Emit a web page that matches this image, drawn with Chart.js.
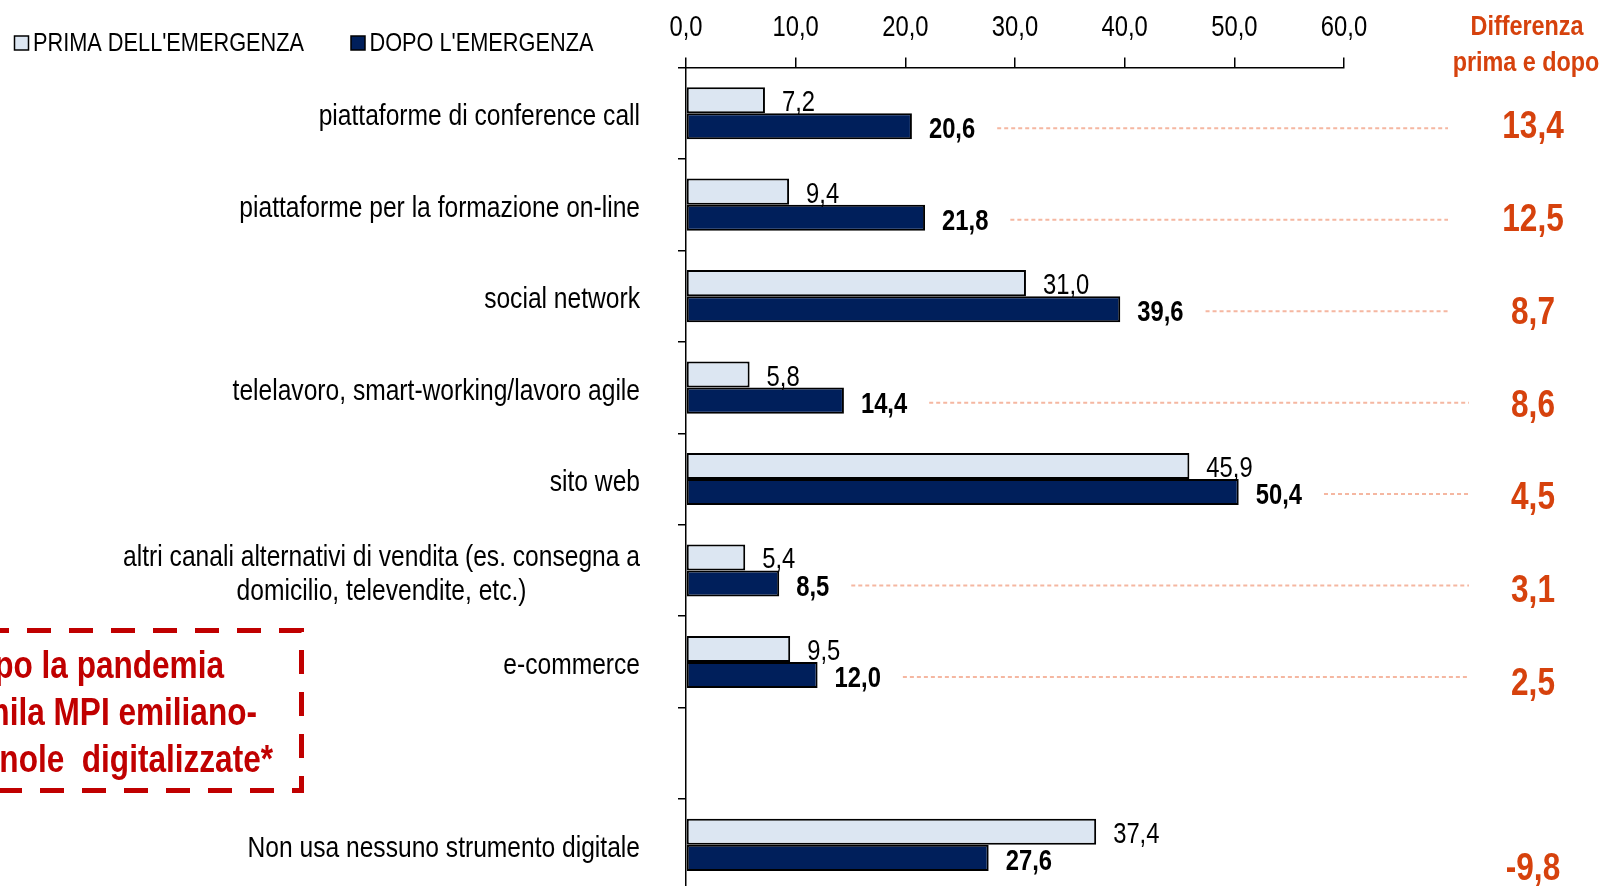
<!DOCTYPE html>
<html>
<head>
<meta charset="utf-8">
<script src="https://cdn.jsdelivr.net/npm/chart.js@4/dist/chart.umd.min.js"></script>
<style>
  html, body { margin: 0; padding: 0; background: #fff; overflow: hidden; }
  canvas { display: block; }
</style>
</head>
<body>
<canvas id="chart" width="1605" height="900"></canvas>
<script>
// dati
var categorie = [
  'piattaforme di conference call',
  'piattaforme per la formazione on-line',
  'social network',
  'telelavoro, smart-working/lavoro agile',
  'sito web',
  ['altri canali alternativi di vendita (es. consegna a', 'domicilio, televendite, etc.)'],
  'e-commerce',
  '',
  'Non usa nessuno strumento digitale'
];
var prima = [7.2, 9.4, 31.0, 5.8, 45.9, 5.4, 9.5, null, 37.4];
var dopo = [20.6, 21.8, 39.6, 14.4, 50.4, 8.5, 12.0, null, 27.6];
var differenza = [13.4, 12.5, 8.7, 8.6, 4.5, 3.1, 2.5, null, -9.8];
var serieNomi = ["PRIMA DELL'EMERGENZA", "DOPO L'EMERGENZA"];
var titoloDiff = ['Differenza', 'prima e dopo'];
var riquadro = ['Dopo la pandemia', 'mila MPI emiliano-', 'romagnole  digitalizzate*'];

var CHIARO = '#dce6f2';
var SCURO = '#001f5b';
var ROSSO = '#c00000';
var ARANCIO = '#d6420d';

// font stretto: Liberation Sans Narrow se c'e', altrimenti Liberation Sans compresso
var FAM = '"Liberation Sans Narrow"', SX = 1;
(function () {
  var c = document.createElement('canvas').getContext('2d');
  c.font = '20px "Liberation Sans Narrow", monospace';
  var a = c.measureText('abcdefghij').width;
  c.font = '20px monospace';
  var b = c.measureText('abcdefghij').width;
  if (a === b) { FAM = '"Liberation Sans", Arial, sans-serif'; SX = 0.82; }
})();

function fmt(v) { return v.toFixed(1).replace('.', ','); }

function setFont(ctx, size, bold) {
  ctx.font = (bold ? 'bold ' : '') + size + 'px ' + FAM;
}
function larghezza(ctx, s, size, bold) {
  setFont(ctx, size, bold);
  return ctx.measureText(s).width * SX;
}
function scrivi(ctx, s, x, y, size, bold, color, align) {
  ctx.save();
  setFont(ctx, size, bold);
  ctx.fillStyle = color;
  ctx.textAlign = align || 'left';
  ctx.textBaseline = 'middle';
  ctx.translate(x, y);
  ctx.scale(SX, 1);
  ctx.fillText(s, 0, 0);
  ctx.restore();
}

var testi = {
  id: 'testi',
  afterDraw: function (chart) {
    var ctx = chart.ctx;
    var xs = chart.scales.x, ys = chart.scales.y;
    var m0 = chart.getDatasetMeta(0), m1 = chart.getDatasetMeta(1);

    // etichette asse x (in alto)
    xs.ticks.forEach(function (t) {
      scrivi(ctx, fmt(t.value), xs.getPixelForValue(t.value), 27.5, 29, false, '#000', 'center');
    });

    // etichette categorie
    categorie.forEach(function (c, i) {
      var y = ys.getPixelForValue(i);
      if (Array.isArray(c)) {
        var w = 0;
        c.forEach(function (r) { w = Math.max(w, larghezza(ctx, r, 30, false)); });
        var cx = 640 - w / 2;
        c.forEach(function (r, k) {
          scrivi(ctx, r, cx, y + 4 + (k - (c.length - 1) / 2) * 34, 30, false, '#000', 'center');
        });
      } else if (c) {
        scrivi(ctx, c, 640, y + 4, 30, false, '#000', 'right');
      }
    });

    // valori sulle barre
    prima.forEach(function (v, i) {
      if (v === null) return;
      var b = m0.data[i];
      scrivi(ctx, fmt(v), b.x + 17, b.y + 3, 29, false, '#000', 'left');
    });
    dopo.forEach(function (v, i) {
      if (v === null) return;
      var b = m1.data[i];
      var s = fmt(v);
      scrivi(ctx, s, b.x + 17, b.y + 4, 29, true, '#000', 'left');
      // linea tratteggiata verso la differenza
      if (differenza[i] !== null && differenza[i] > 0) {
        var x0 = b.x + 17 + larghezza(ctx, s, 29, true) + 22;
        var x1 = i < 3 ? 1448 : 1469;
        ctx.save();
        ctx.strokeStyle = '#f5b7a1';
        ctx.lineWidth = 2;
        ctx.setLineDash([4, 3]);
        ctx.beginPath();
        ctx.moveTo(x0, b.y + 2);
        ctx.lineTo(x1, b.y + 2);
        ctx.stroke();
        ctx.restore();
      }
    });

    // colonna differenza
    scrivi(ctx, titoloDiff[0], 1527, 27.5, 28.5, true, ARANCIO, 'center');
    scrivi(ctx, titoloDiff[1], 1526, 63.5, 28.5, true, ARANCIO, 'center');
    differenza.forEach(function (d, i) {
      if (d === null) return;
      var y = ys.getPixelForValue(i) + 14.5 + 1.3 * i;
      scrivi(ctx, fmt(d), 1533, y, 38.5, true, ARANCIO, 'center');
    });

    // legenda
    var leg = [[14.5, 33, CHIARO], [351, 369.5, SCURO]];
    leg.forEach(function (l, k) {
      ctx.save();
      ctx.fillStyle = l[2];
      ctx.strokeStyle = '#000';
      ctx.lineWidth = 1.5;
      ctx.fillRect(l[0], 36, 14, 14);
      ctx.strokeRect(l[0], 36, 14, 14);
      ctx.restore();
      scrivi(ctx, serieNomi[k], l[1], 44, 26.5, false, '#000', 'left');
    });

    // riquadro tratteggiato
    ctx.save();
    ctx.strokeStyle = ROSSO;
    ctx.lineWidth = 5;
    ctx.setLineDash([24, 18]);
    ctx.beginPath();
    ctx.moveTo(-15, 630.5);
    ctx.lineTo(301.5, 630.5);
    ctx.lineTo(301.5, 790.5);
    ctx.lineTo(-15, 790.5);
    ctx.stroke();
    ctx.restore();
    var fine = [224, 257, 273];
    var yy = [667, 714.5, 761];
    riquadro.forEach(function (r, k) {
      scrivi(ctx, r, fine[k], yy[k], 38.5, true, ROSSO, 'right');
    });
  }
};

new Chart(document.getElementById('chart').getContext('2d'), {
  type: 'bar',
  data: {
    labels: categorie,
    datasets: [
      { label: serieNomi[0], data: prima, backgroundColor: CHIARO, borderColor: '#000', borderWidth: 2, borderSkipped: false },
      { label: serieNomi[1], data: dopo, backgroundColor: SCURO, borderColor: '#000', borderWidth: 2, borderSkipped: false }
    ]
  },
  options: {
    indexAxis: 'y',
    responsive: false,
    animation: false,
    devicePixelRatio: 1,
    categoryPercentage: 0.57,
    barPercentage: 1.0,
    layout: { padding: { left: 678, right: 261, top: 57.5, bottom: 9.4 } },
    scales: {
      x: {
        position: 'top',
        min: 0,
        max: 60,
        ticks: { stepSize: 10, display: false },
        grid: { drawOnChartArea: false, color: '#000', lineWidth: 1.5, tickLength: 10 },
        border: { color: '#000', width: 1.5 }
      },
      y: {
        ticks: { display: false },
        grid: { drawOnChartArea: false, color: '#000', lineWidth: 1.5, tickLength: 8 },
        border: { color: '#000', width: 1.5 }
      }
    },
    plugins: {
      legend: { display: false },
      tooltip: { enabled: false }
    }
  },
  plugins: [testi]
});
</script>
</body>
</html>
